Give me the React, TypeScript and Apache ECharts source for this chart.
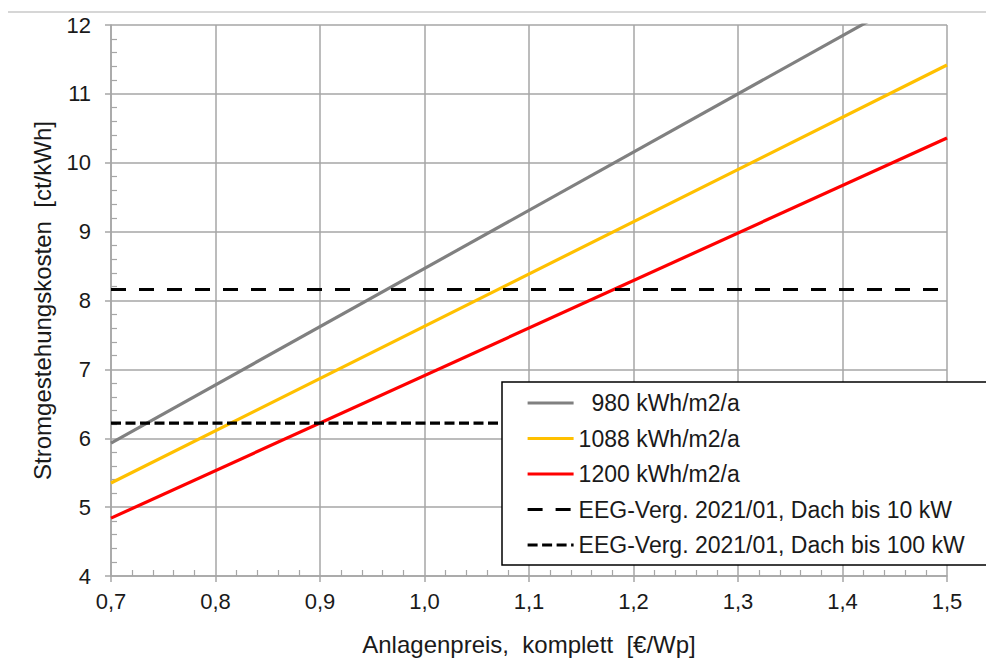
import React, { useEffect, useRef } from "react";
import * as echarts from "echarts";

const xRange = [0.7, 1.5];
const series980 = [[0.7, 5.93], [1.5, 12.69]];
const series1088 = [[0.7, 5.35], [1.5, 11.42]];
const series1200 = [[0.7, 4.84], [1.5, 10.36]];
const eeg10 = 8.16;
const eeg100 = 6.22;
const seriesNames = [
  "  980 kWh/m2/a",
  "1088 kWh/m2/a",
  "1200 kWh/m2/a",
  "EEG-Verg. 2021/01, Dach bis 10 kW",
  "EEG-Verg. 2021/01, Dach bis 100 kW",
];
const colors = ["#808080", "#FFC000", "#FF0000", "#000000", "#000000"];

const FONT = "Liberation Sans, Arial, sans-serif";
const GRID = "#a6a6a6";
const TXT = "#1a1a1a";

export default function App() {
  const ref = useRef<HTMLDivElement>(null);
  useEffect(() => {
    document.body.style.margin = "0";
    const chart = echarts.init(ref.current!, undefined, { renderer: "svg" });
    const fmt = (v: number) => v.toFixed(1).replace(".", ",");
    chart.setOption({
      animation: false,
      backgroundColor: "#ffffff",
      textStyle: { fontFamily: FONT },
      grid: { left: 111, right: 39, top: 25, bottom: 85 },
      xAxis: {
        type: "value",
        min: xRange[0],
        max: xRange[1],
        interval: 0.1,
        name: "Anlagenpreis,  komplett  [€/Wp]",
        nameLocation: "middle",
        nameGap: 56,
        nameTextStyle: { fontSize: 24, color: TXT, fontFamily: FONT },
        axisLine: { show: true, lineStyle: { color: GRID, width: 1.5 } },
        axisTick: { show: true, length: 6, lineStyle: { color: GRID, width: 1.5 } },
        minorTick: { show: true, splitNumber: 5, length: -6, lineStyle: { color: GRID, width: 1.2 } },
        axisLabel: { formatter: fmt, fontSize: 22, color: TXT, margin: 14, fontFamily: FONT },
        splitLine: { show: true, lineStyle: { color: GRID, width: 1.5 } },
      },
      yAxis: {
        type: "value",
        min: 4,
        max: 12,
        interval: 1,
        name: "Stromgestehungskosten  [ct/kWh]",
        nameLocation: "middle",
        nameGap: 57,
        nameTextStyle: { fontSize: 24, color: TXT, fontFamily: FONT },
        axisLine: { show: true, lineStyle: { color: GRID, width: 1.5 } },
        axisTick: { show: true, length: 6, lineStyle: { color: GRID, width: 1.5 } },
        minorTick: { show: true, splitNumber: 5, length: -6, lineStyle: { color: GRID, width: 1.2 } },
        axisLabel: { fontSize: 22, color: TXT, margin: 20, fontFamily: FONT },
        splitLine: { show: true, lineStyle: { color: GRID, width: 1.5 } },
      },
      legend: {
        orient: "vertical",
        left: 502,
        top: 382,
        z: 5,
        itemWidth: 46,
        itemHeight: 2,
        itemGap: 11.5,
        padding: [9, 10, 8, 24],
        itemStyle: { opacity: 0 },
        lineStyle: { width: 3.2 },
        textStyle: { fontSize: 23, color: TXT, fontFamily: FONT, lineHeight: 24 },
        data: seriesNames,
      },
      graphic: [
        {
          type: "line",
          shape: { x1: 8, y1: 12, x2: 986, y2: 12 },
          style: { stroke: "#c8c8c8", lineWidth: 1.5 },
          silent: true,
        },
        {
          type: "rect",
          z: 4,
          shape: { x: 502, y: 382, width: 600, height: 183 },
          style: { fill: "#ffffff", stroke: "#000000", lineWidth: 1.5 },
          silent: true,
        },
      ],
      series: [
        {
          name: seriesNames[0],
          type: "line",
          data: series980,
          symbol: "none",
          lineStyle: { color: colors[0], width: 3.2 },
          itemStyle: { color: colors[0] },
        },
        {
          name: seriesNames[1],
          type: "line",
          data: series1088,
          symbol: "none",
          lineStyle: { color: colors[1], width: 3.2 },
          itemStyle: { color: colors[1] },
        },
        {
          name: seriesNames[2],
          type: "line",
          data: series1200,
          symbol: "none",
          lineStyle: { color: colors[2], width: 3.2 },
          itemStyle: { color: colors[2] },
        },
        {
          name: seriesNames[3],
          type: "line",
          data: [[xRange[0], eeg10], [xRange[1], eeg10]],
          symbol: "none",
          lineStyle: { color: colors[3], width: 3.2, type: [15, 13] },
          itemStyle: { color: colors[3] },
        },
        {
          name: seriesNames[4],
          type: "line",
          data: [[xRange[0], eeg100], [xRange[1], eeg100]],
          symbol: "none",
          lineStyle: { color: colors[4], width: 3.2, type: [10, 4.5] },
          itemStyle: { color: colors[4] },
        },
      ],
    });
    return () => chart.dispose();
  }, []);
  return <div ref={ref} style={{ width: 986, height: 661 }} />;
}
